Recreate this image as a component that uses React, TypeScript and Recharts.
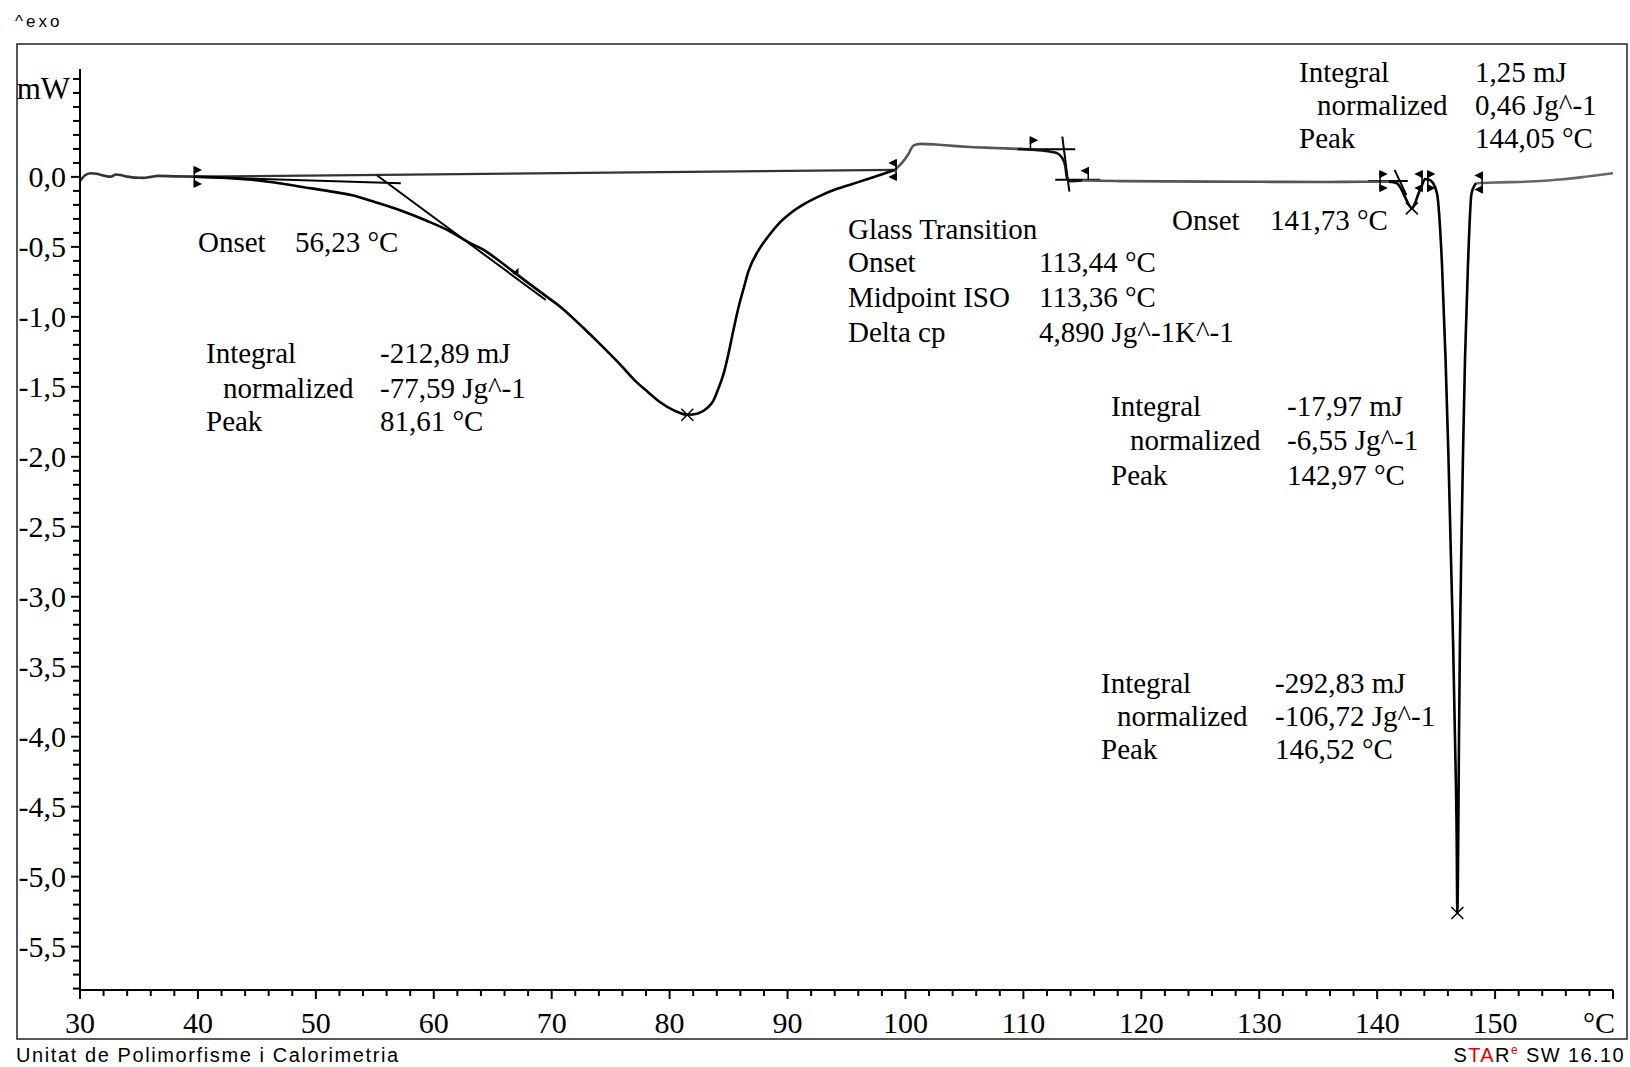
import React from 'react';
import { ComposedChart, Line, Scatter, XAxis, YAxis } from 'recharts';

// DSC curve: temperature (°C) and heat flow (mW)
const dscTemp = [
  30.0, 30.4, 30.9, 31.4, 31.8, 32.3, 32.6, 33.05, 33.5, 34.0, 35.0, 35.4, 36.0, 36.6, 38.0, 39.7,
  42.0, 44.5, 46.5, 48.7, 51.0, 53.0, 55.0, 57.2, 59.3, 61.4, 63.0, 64.2, 65.7, 67.1, 69.0, 70.9,
  72.7, 74.4, 75.8, 77.0, 78.2, 79.2, 80.4, 81.5, 82.4, 83.2, 83.7, 84.1, 84.6, 85.0, 85.4, 85.85,
  86.3, 86.7, 87.5, 88.5, 89.3, 90.25, 91.5, 92.9, 94.2, 95.5, 97.0, 98.2, 99.1, 99.7, 100.2, 100.7,
  101.3, 102.5, 104.0, 105.5, 107.5, 109.5, 111.0, 112.3, 112.85, 113.3, 113.56, 113.7, 114.0, 115.0,
  118.2, 122.0, 126.0, 130.0, 135.8, 139.0, 141.0, 141.67, 142.0, 142.4, 142.7, 142.94, 143.2, 143.5,
  143.8, 144.05, 144.4, 144.7, 145.08, 145.5, 145.8, 146.04, 146.24, 146.44, 146.6, 146.74, 146.8,
  146.88, 146.94, 147.02, 147.14, 147.28, 147.45, 147.7, 148.0, 148.4, 150.0, 152.96, 155.8, 158.0, 160.0,
];
const dscFlow = [
  -0.03, 0.01, 0.026, 0.022, 0.014, 0.004, 0.002, 0.017, 0.012, 0.002, -0.006, -0.007, 0.0, 0.007, 0.004, 0.002,
  -0.005, -0.02, -0.04, -0.07, -0.1, -0.13, -0.18, -0.24, -0.31, -0.39, -0.47, -0.52, -0.61, -0.7, -0.82, -0.94,
  -1.08, -1.22, -1.34, -1.45, -1.54, -1.61, -1.67, -1.7, -1.69, -1.65, -1.6, -1.52, -1.4, -1.26, -1.1, -0.93,
  -0.79, -0.67, -0.53, -0.41, -0.33, -0.26, -0.19, -0.13, -0.085, -0.05, -0.01, 0.025, 0.05, 0.1, 0.157, 0.225,
  0.236, 0.232, 0.222, 0.214, 0.207, 0.2, 0.192, 0.18, 0.17, 0.134, 0.074, -0.01, -0.03, -0.026,
  -0.03, -0.032, -0.034, -0.035, -0.036, -0.035, -0.035, -0.045, -0.08, -0.15, -0.2, -0.225, -0.19, -0.12,
  -0.06, -0.015, -0.02, -0.04, -0.12, -0.63, -1.3, -1.98, -2.66, -3.33, -4.01, -4.69, -5.26,
  -4.69, -4.01, -3.33, -2.66, -1.98, -1.3, -0.63, -0.12, -0.045, -0.04, -0.033, -0.017, 0.005, 0.026,
];

// Construction lines (T, mW)
const integBaseline = [[39.7, 0.002], [99.1, 0.05]];
const onset1Base = [[39.7, 0.0], [57.2, -0.045]];
const onset1Tangent = [[55.2, 0.01], [69.5, -0.88]];
const gtTop = [[109.5, 0.198], [114.4, 0.198]];
const gtTangent = [[113.3, 0.288], [113.9, -0.105]];
const gtBottom = [[112.7, -0.021], [116.5, -0.021]];
const onset2Base = [[139.25, -0.029], [142.6, -0.029]];
const onset2Tangent = [[141.48, 0.05], [142.48, -0.13]];

// Markers
const markerKinds = ['br', 'tri', 'bl', 'tr', 'tl', 'br', 'bl', 'br', 'bl', 'x', 'x', 'x'];
const markerTemp = [39.7, 67.1, 99.2, 110.6, 115.5, 140.25, 143.8, 144.3, 148.9, 81.5, 142.94, 146.8];
const markerFlow = [0.0, -0.7, 0.05, 0.198, -0.021, -0.03, -0.03, -0.03, -0.04, -1.7, -0.225, -5.26];

// Axis ticks
const xMajorTicks = [30, 40, 50, 60, 70, 80, 90, 100, 110, 120, 130, 140, 150];
const xTickLabels = ['30', '40', '50', '60', '70', '80', '90', '100', '110', '120', '130', '140', '150'];
const xUnitLabel = '°C';
const yMajorTicks = [0, -0.5, -1, -1.5, -2, -2.5, -3, -3.5, -4, -4.5, -5, -5.5];
const yTickLabels = ['0,0', '-0,5', '-1,0', '-1,5', '-2,0', '-2,5', '-3,0', '-3,5', '-4,0', '-4,5', '-5,0', '-5,5'];
const yUnitLabel = 'mW';

const xAllTicks: number[] = [];
for (let t = 30; t <= 160; t += 2) xAllTicks.push(t);
const yAllTicks: number[] = [];
for (let i = -58; i <= 7; i++) yAllTicks.push(i / 10);

const curve = dscTemp.map((t, i) => ({ x: t, y: dscFlow[i] }));
const seg = (lo: number, hi: number) => curve.filter((p) => p.x >= lo && p.x <= hi);
const toPts = (a: number[][]) => a.map(([x, y]) => ({ x, y }));
const markers = markerTemp.map((t, i) => ({ x: t, y: markerFlow[i], kind: markerKinds[i] }));

const SERIF = '"Liberation Serif", "Times New Roman", serif';
const SANS = '"Liberation Sans", Arial, sans-serif';

const W = 1630;
const H = 1067;

function XTick(props: any) {
  const { x, y, payload } = props;
  const v = payload.value;
  const idx = xMajorTicks.indexOf(v);
  const major = idx >= 0 || v === 160;
  return (
    <g>
      <line x1={x} x2={x} y1={y} y2={y + (major ? 9 : 6)} stroke="#000" strokeWidth={2} />
      {idx >= 0 && (
        <text x={x} y={y + 43} textAnchor="middle" fontFamily={SERIF} fontSize={30} fill="#000">
          {xTickLabels[idx]}
        </text>
      )}
      {v === 160 && (
        <text x={x + 2} y={y + 43} textAnchor="end" fontFamily={SERIF} fontSize={30} fill="#000">
          {xUnitLabel}
        </text>
      )}
    </g>
  );
}

function YTick(props: any) {
  const { x, y, payload } = props;
  const v = payload.value;
  const idx = yMajorTicks.findIndex((m) => Math.abs(m - v) < 1e-6);
  const major = idx >= 0;
  return (
    <g>
      <line x1={x - (major ? 9 : 7)} x2={x} y1={y} y2={y} stroke="#000" strokeWidth={2} />
      {major && (
        <text x={x - 14} y={y + 10} textAnchor="end" fontFamily={SERIF} fontSize={30} fill="#000">
          {yTickLabels[idx]}
        </text>
      )}
    </g>
  );
}

function MarkerShape(props: any) {
  const { cx, cy, payload } = props;
  if (cx == null || cy == null) return null;
  const k = payload.kind;
  const s = '#000';
  if (k === 'x') {
    return (
      <g stroke={s} strokeWidth={1.5}>
        <line x1={cx - 6} y1={cy - 6} x2={cx + 6} y2={cy + 6} />
        <line x1={cx - 6} y1={cy + 6} x2={cx + 6} y2={cy - 6} />
      </g>
    );
  }
  if (k === 'br' || k === 'bl') {
    const d = k === 'br' ? 6 : -6;
    return (
      <g stroke={s} strokeWidth={1.5} fill={s}>
        <line x1={cx} y1={cy - 10} x2={cx} y2={cy + 10} />
        <path d={`M${cx},${cy - 10} L${cx + d},${cy - 7} L${cx},${cy - 4} Z`} />
        <path d={`M${cx},${cy + 4} L${cx + d},${cy + 7} L${cx},${cy + 10} Z`} />
      </g>
    );
  }
  if (k === 'tr' || k === 'tl') {
    const d = k === 'tr' ? 6 : -6;
    return (
      <g stroke={s} strokeWidth={1.5} fill={s}>
        <line x1={cx} y1={cy - 12} x2={cx} y2={cy} />
        <path d={`M${cx},${cy - 12} L${cx + d},${cy - 9} L${cx},${cy - 6} Z`} />
      </g>
    );
  }
  return (
    <g fill={s}>
      <path d={`M${cx + 1},${cy - 7} L${cx + 1},${cy + 1} L${cx - 5},${cy - 1} Z`} />
    </g>
  );
}

type Txt = [string, number, number];
const annotations: Txt[] = [
  ['Onset', 198, 252], ['56,23 °C', 295, 252],
  ['Integral', 206, 363], ['-212,89 mJ', 380, 363],
  ['normalized', 223, 398], ['-77,59 Jg^-1', 380, 398],
  ['Peak', 206, 431], ['81,61 °C', 380, 431],
  ['Glass Transition', 848, 239],
  ['Onset', 848, 272], ['113,44 °C', 1039, 272],
  ['Midpoint ISO', 848, 307], ['113,36 °C', 1039, 307],
  ['Delta cp', 848, 342], ['4,890 Jg^-1K^-1', 1039, 342],
  ['Onset', 1172, 230], ['141,73 °C', 1270, 230],
  ['Integral', 1299, 82], ['1,25 mJ', 1475, 82],
  ['normalized', 1317, 115], ['0,46 Jg^-1', 1475, 115],
  ['Peak', 1299, 148], ['144,05 °C', 1475, 148],
  ['Integral', 1111, 416], ['-17,97 mJ', 1287, 416],
  ['normalized', 1130, 450], ['-6,55 Jg^-1', 1287, 450],
  ['Peak', 1111, 485], ['142,97 °C', 1287, 485],
  ['Integral', 1101, 693], ['-292,83 mJ', 1275, 693],
  ['normalized', 1117, 726], ['-106,72 Jg^-1', 1275, 726],
  ['Peak', 1101, 759], ['146,52 °C', 1275, 759],
];

const lineProps = { dataKey: 'y', dot: false, activeDot: false, isAnimationActive: false, type: 'linear' as const };
const CW = 2.6;

export default function App() {
  return (
    <div style={{ position: 'absolute', left: 0, top: 0, width: W, height: H, background: '#fff' }}>
      <div style={{ position: 'absolute', left: 0, top: 0 }}>
        <ComposedChart width={W} height={H} margin={{ top: 69, right: 17, bottom: 76, left: 79 }}>
          <XAxis
            type="number"
            dataKey="x"
            domain={[30, 160]}
            allowDataOverflow
            ticks={xAllTicks}
            interval={0}
            height={1}
            tickSize={0}
            tickMargin={0}
            tickLine={false}
            axisLine={{ stroke: '#000', strokeWidth: 2 }}
            tick={<XTick />}
          />
          <YAxis
            type="number"
            domain={[-5.81, 0.771]}
            allowDataOverflow
            ticks={yAllTicks}
            interval={0}
            width={1}
            tickSize={0}
            tickMargin={0}
            tickLine={false}
            axisLine={{ stroke: '#000', strokeWidth: 2 }}
            tick={<YTick />}
          />
          <Line {...lineProps} data={toPts(integBaseline)} stroke="#333" strokeWidth={2.2} />
          <Line {...lineProps} data={toPts(onset1Base)} stroke="#000" strokeWidth={2} />
          <Line {...lineProps} data={toPts(onset1Tangent)} stroke="#000" strokeWidth={2} />
          <Line {...lineProps} data={toPts(gtTop)} stroke="#000" strokeWidth={2} />
          <Line {...lineProps} data={toPts(gtTangent)} stroke="#000" strokeWidth={2} />
          <Line {...lineProps} data={toPts(gtBottom)} stroke="#000" strokeWidth={2} />
          <Line {...lineProps} data={toPts(onset2Base)} stroke="#000" strokeWidth={2} />
          <Line {...lineProps} data={toPts(onset2Tangent)} stroke="#000" strokeWidth={2} />
          <Line {...lineProps} type="monotone" data={seg(30, 39.7)} stroke="#333" strokeWidth={CW} />
          <Line {...lineProps} type="monotone" data={seg(39.7, 99.1)} stroke="#000" strokeWidth={CW} />
          <Line {...lineProps} type="monotone" data={seg(99.1, 109.5)} stroke="#555" strokeWidth={CW} />
          <Line {...lineProps} type="monotone" data={seg(109.5, 115.0)} stroke="#111" strokeWidth={CW} />
          <Line {...lineProps} type="monotone" data={seg(115.0, 141.0)} stroke="#555" strokeWidth={CW} />
          <Line {...lineProps} type="monotone" data={seg(141.0, 148.4)} stroke="#000" strokeWidth={CW} />
          <Line {...lineProps} type="monotone" data={seg(148.4, 160)} stroke="#666" strokeWidth={CW} />
          <Scatter data={markers} dataKey="y" isAnimationActive={false} shape={(p: any) => <MarkerShape {...p} />} />
        </ComposedChart>
      </div>
      <svg
        width={W}
        height={H}
        style={{ position: 'absolute', left: 0, top: 0, pointerEvents: 'none' }}
      >
        <rect x={17} y={44} width={1610} height={995} fill="none" stroke="#222" strokeWidth={1.5} />
        <text x={15} y={27} fontFamily={SANS} fontSize={17} letterSpacing={3} fill="#000">^exo</text>
        <text x={70} y={99} textAnchor="end" fontFamily={SERIF} fontSize={31} fill="#000">{yUnitLabel}</text>
        {annotations.map(([t, x, y], i) => (
          <text key={i} x={x} y={y} fontFamily={SERIF} fontSize={29} fill="#000" style={{ whiteSpace: 'pre' }}>
            {t}
          </text>
        ))}
        <text x={16} y={1062} fontFamily={SANS} fontSize={20} letterSpacing={1.6} fill="#000">
          Unitat de Polimorfisme i Calorimetria
        </text>
        <text x={1625} y={1062} textAnchor="end" fontFamily={SANS} fontSize={20} letterSpacing={1.4} fill="#000">
          <tspan>S</tspan>
          <tspan fill="#e00000">TA</tspan>
          <tspan>R</tspan>
          <tspan fill="#e00000" fontSize={12} dy={-8}>e</tspan>
          <tspan dy={8}> SW 16.10</tspan>
        </text>
      </svg>
    </div>
  );
}
